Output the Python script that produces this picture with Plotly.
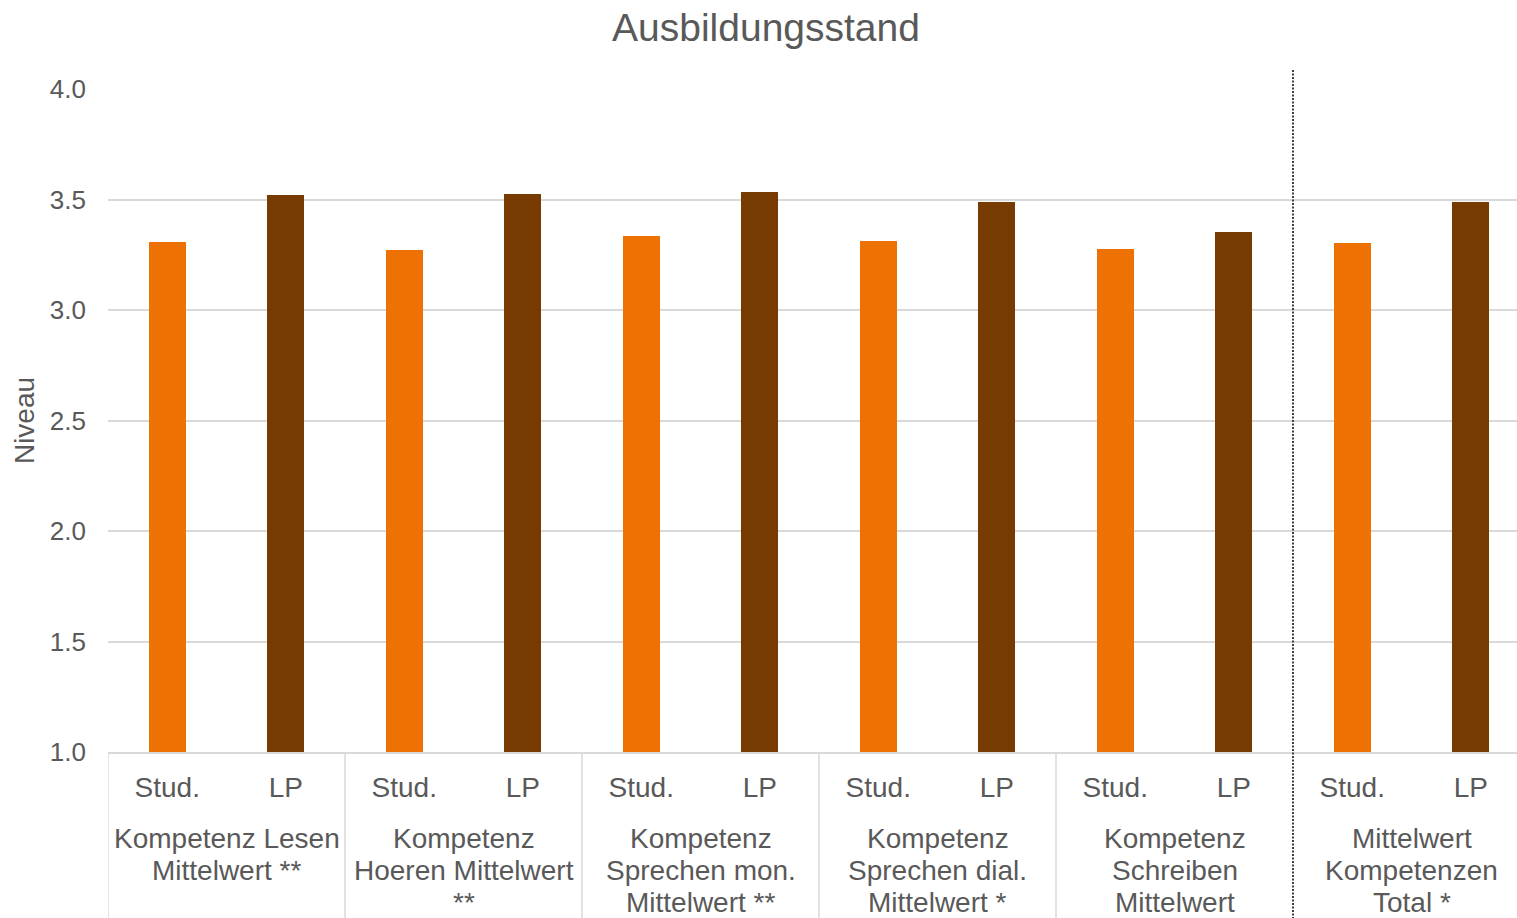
import plotly.graph_objects as go

groups = [
    "Kompetenz Lesen<br>Mittelwert **",
    "Kompetenz<br>Hoeren Mittelwert<br>**",
    "Kompetenz<br>Sprechen mon.<br>Mittelwert **",
    "Kompetenz<br>Sprechen dial.<br>Mittelwert *",
    "Kompetenz<br>Schreiben<br>Mittelwert",
    "Mittelwert<br>Kompetenzen<br>Total *",
]
series_names = ["Stud.", "LP"]
stud_values = [3.308, 3.271, 3.335, 3.312, 3.276, 3.303]
lp_values = [3.520, 3.525, 3.534, 3.489, 3.353, 3.489]
y_ticks = [1.0, 1.5, 2.0, 2.5, 3.0, 3.5, 4.0]

ORANGE = "#EE7203"
BROWN = "#773A00"
TXT = "#595959"
GRID = "#D9D9D9"
FONT = "Liberation Sans, Arial, sans-serif"

n = len(groups)
x_stud = [2 * i for i in range(n)]
x_lp = [2 * i + 1 for i in range(n)]

fig = go.Figure()
fig.add_trace(go.Bar(x=x_stud, y=[v - 1.0 for v in stud_values], base=1.0,
                     marker=dict(color=ORANGE, line=dict(width=0)),
                     width=0.312, name=series_names[0], showlegend=False))
fig.add_trace(go.Bar(x=x_lp, y=[v - 1.0 for v in lp_values], base=1.0,
                     marker=dict(color=BROWN, line=dict(width=0)),
                     width=0.312, name=series_names[1], showlegend=False))

tickvals = []
ticktext = []
for i in range(n):
    tickvals += [2 * i, 2 * i + 1]
    ticktext += series_names

plot_h = 918 - 89 - 166
bottom = -166 / plot_h
cat_px = 118.5
x_max = -0.5 + (1517 - 108) / cat_px

# group labels, one annotation per line
for i, g in enumerate(groups):
    for k, line in enumerate(g.split("<br>")):
        yc = 838 + 32 * k
        fig.add_annotation(x=2 * i + 0.5, y=-(yc - 752) / plot_h, xref="x", yref="paper",
                           text=line, showarrow=False, yanchor="middle", xanchor="center",
                           font=dict(family=FONT, size=28, color=TXT), align="center")

# separators
for i in range(n - 1):
    xs = 2 * i - 0.5
    fig.add_shape(type="line", xref="x", yref="paper", x0=xs, x1=xs, y0=0, y1=bottom,
                  line=dict(color=GRID, width=1.5))
xd = 2 * (n - 1) - 0.5
fig.add_shape(type="line", xref="x", yref="paper", x0=xd, x1=xd, y0=1 + 19 / plot_h, y1=bottom,
              line=dict(color="#404040", width=2, dash="2px,1.5px"))

fig.update_layout(
    width=1517, height=918,
    margin=dict(l=108, r=0, t=89, b=166),
    paper_bgcolor="white", plot_bgcolor="white",
    title=dict(text="Ausbildungsstand", x=766 / 1517, xref="container", xanchor="center",
               y=1 - 27 / 918, yref="container", yanchor="middle",
               font=dict(family=FONT, size=39, color=TXT)),
    font=dict(family=FONT, color=TXT),
    bargap=0,
    xaxis=dict(range=[-0.5, x_max], tickvals=tickvals, ticktext=ticktext,
               showgrid=False, zeroline=False, showline=True, linecolor=GRID, linewidth=1.5,
               ticks="", tickfont=dict(family=FONT, size=28, color=TXT), ticklabelstandoff=10),
    yaxis=dict(range=[1.0, 4.0], tickvals=y_ticks, ticktext=[f"{v:.1f}" for v in y_ticks],
               showgrid=True, gridcolor=GRID, gridwidth=1.5, zeroline=False, showline=False,
               ticks="", tickfont=dict(family=FONT, size=26, color=TXT), ticklabelstandoff=21,
               title=dict(text="Niveau", font=dict(family=FONT, size=28, color=TXT), standoff=7)),
)

fig.write_html("out.html", config={"displayModeBar": False},
               post_script="document.body.style.margin='0';document.body.style.overflow='hidden';")
